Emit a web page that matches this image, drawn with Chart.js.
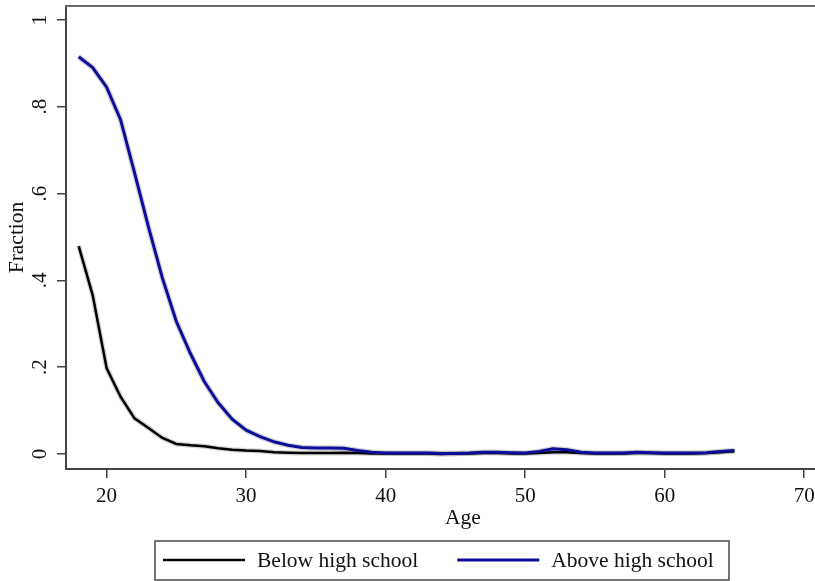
<!DOCTYPE html>
<html>
<head>
<meta charset="utf-8">
<script src="https://cdn.jsdelivr.net/npm/chart.js@4/dist/chart.umd.min.js"></script>
<style>
html,body{margin:0;padding:0;background:#fff;overflow:hidden;width:815px;height:581px;}
canvas{display:block;}
</style>
</head>
<body>
<canvas id="c" width="860" height="581"></canvas>
<script>
// ---- data ----
const ages = [18,19,20,21,22,23,24,25,26,27,28,29,30,31,32,33,34,35,36,37,38,39,40,41,42,43,44,45,46,47,48,49,50,51,52,53,54,55,56,57,58,59,60,61,62,63,64,65];
const belowHS = [0.479,0.366,0.198,0.132,0.082,0.060,0.037,0.023,0.020,0.018,0.013,0.010,0.008,0.007,0.004,0.003,0.002,0.002,0.002,0.003,0.002,0.001,0.001,0.001,0.001,0.001,0.000,0.001,0.001,0.002,0.002,0.001,0.001,0.002,0.004,0.004,0.002,0.001,0.001,0.001,0.002,0.002,0.001,0.001,0.001,0.002,0.004,0.006];
const aboveHS = [0.915,0.890,0.845,0.770,0.648,0.523,0.405,0.305,0.232,0.167,0.118,0.080,0.055,0.040,0.028,0.020,0.015,0.014,0.014,0.013,0.008,0.004,0.002,0.002,0.002,0.002,0.001,0.001,0.002,0.004,0.004,0.003,0.002,0.006,0.012,0.010,0.004,0.002,0.002,0.002,0.004,0.003,0.002,0.002,0.002,0.003,0.006,0.008];
const seriesNames = ['Below high school','Above high school'];
const xTicks = [20,30,40,50,60,70];
const yTicks = [0,0.2,0.4,0.6,0.8,1];
const yTickLabels = ['0','.2','.4','.6','.8','1'];
const xTitle = 'Age';
const yTitle = 'Fraction';

const FONT = 'Liberation Serif, Times New Roman, serif';
const colBelow = '#000000';
const colAbove = '#0d0d9c';
const pts = vals => ages.map((a,i)=>({x:a,y:vals[i]}));

const frame = {
  id:'frame',
  afterDraw(chart){
    const {ctx, chartArea:ca} = chart;
    ctx.save();
    // top border of plot region
    ctx.strokeStyle = '#6a6a6a';
    ctx.lineWidth = 2;
    ctx.beginPath();
    ctx.moveTo(ca.left-1, ca.top);
    ctx.lineTo(ca.right, ca.top);
    ctx.stroke();
    // legend box
    const bx = 155, by = 541, bw = 574, bh = 39;
    ctx.strokeStyle = '#4a4a4a';
    ctx.lineWidth = 1.5;
    ctx.strokeRect(bx, by, bw, bh);
    ctx.font = '21.5px ' + FONT;
    ctx.textBaseline = 'middle';
    ctx.textAlign = 'left';
    const sample = 82, gap = 12, itemGap = 39;
    const ly = by + bh/2 - 0.5;
    let x = 163;
    const items = [{t:seriesNames[0], c:colBelow, w:2.5},{t:seriesNames[1], c:colAbove, w:3}];
    items.forEach(it=>{
      ctx.strokeStyle = it.c;
      ctx.lineWidth = it.w;
      ctx.beginPath();
      ctx.moveTo(x, ly);
      ctx.lineTo(x+sample, ly);
      ctx.stroke();
      x += sample + gap;
      ctx.fillStyle = '#111';
      ctx.fillText(it.t, x, ly + 1);
      x += ctx.measureText(it.t).width + itemGap;
    });
    ctx.restore();
  }
};

new Chart(document.getElementById('c'), {
  type:'line',
  data:{
    datasets:[
      {label:seriesNames[1], data:pts(aboveHS), borderColor:colAbove, borderWidth:3, pointRadius:0, tension:0, order:0},
      {label:seriesNames[0], data:pts(belowHS), borderColor:colBelow, borderWidth:2.5, pointRadius:0, tension:0, order:1},
      {label:'band1', data:pts(aboveHS), borderColor:'rgba(110,110,110,0.3)', borderWidth:5.5, pointRadius:0, tension:0, order:2},
      {label:'band0', data:pts(belowHS), borderColor:'rgba(110,110,110,0.3)', borderWidth:5, pointRadius:0, tension:0, order:3}
    ]
  },
  options:{
    responsive:false,
    animation:false,
    devicePixelRatio:1,
    layout:{padding:{top:6,left:0,right:0,bottom:0}},
    plugins:{legend:{display:false}, tooltip:{enabled:false}},
    scales:{
      x:{
        type:'linear', position:'bottom', min:17.09, max:74,
        afterBuildTicks(s){ s.ticks = xTicks.map(v=>({value:v})); },
        afterFit(s){ s.height = 112; s.paddingLeft = 0; s.paddingRight = 0; },
        grid:{display:true, drawOnChartArea:false, drawTicks:true, tickLength:9, color:'#444', lineWidth:1.5},
        border:{display:true, color:'#444', width:2},
        ticks:{font:{family:FONT,size:21}, color:'#111', padding:6, maxRotation:0, autoSkip:false},
        title:{display:true, text:xTitle, font:{family:FONT,size:21.5}, color:'#111', padding:{top:0,bottom:50}}
      },
      y:{
        type:'linear', position:'left', min:-0.0346, max:1.032,
        afterBuildTicks(s){ s.ticks = yTicks.map(v=>({value:v})); },
        afterFit(s){ s.width = 66; s.paddingTop = 0; s.paddingBottom = 0; },
        grid:{display:true, drawOnChartArea:false, drawTicks:true, tickLength:9, color:'#444', lineWidth:1.5},
        border:{display:true, color:'#444', width:2},
        ticks:{font:{family:FONT,size:21}, color:'#111', padding:9, minRotation:90, maxRotation:90, crossAlign:'center', autoSkip:false,
          callback:(v)=>{ const i = yTicks.indexOf(v); return i>=0 ? yTickLabels[i] : ''; }},
        title:{display:true, text:yTitle, font:{family:FONT,size:21.5}, color:'#111', padding:{top:4.5,bottom:0}}
      }
    }
  },
  plugins:[frame]
});
</script>
</body>
</html>
